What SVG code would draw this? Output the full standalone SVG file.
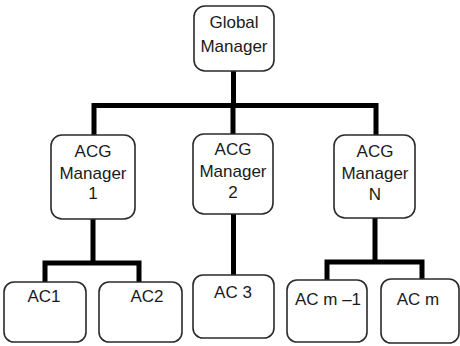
<svg xmlns="http://www.w3.org/2000/svg" width="460" height="346" viewBox="0 0 460 346">
  <style>
    .box { fill: #ffffff; stroke: #2a2a2a; stroke-width: 1.6; }
    .lbl { font-family: "Liberation Sans", Arial, sans-serif; font-size: 17px; fill: #1a1a1a; text-anchor: middle; }
    .wire { fill: none; stroke: #000000; stroke-width: 5; stroke-linejoin: miter; stroke-linecap: butt; }
  </style>
  <rect width="460" height="346" fill="#ffffff"/>

  <!-- connectors -->
  <g id="connectors">
    <path class="wire" d="M233.5 71 V105.5 M94 135 V105.5 H376 V135 M233 105.5 V134"/>
    <path class="wire" d="M93 219 V263 M45 282 V263 H139 V282"/>
    <path class="wire" d="M233.5 214 V275"/>
    <path class="wire" d="M375 218 V262 M327 280 V262 H422 V279"/>
  </g>

  <!-- top level -->
  <g id="global-manager">
    <rect class="box" x="194" y="6" width="80" height="65" rx="11"/>
    <text class="lbl" x="234" y="28">Global</text>
    <text class="lbl" x="234" y="52">Manager</text>
  </g>

  <!-- group managers -->
  <g id="acg-manager-1">
    <rect class="box" x="51" y="135" width="84" height="84" rx="11"/>
    <text class="lbl" x="93" y="157">ACG</text>
    <text class="lbl" x="93" y="179">Manager</text>
    <text class="lbl" x="93" y="199">1</text>
  </g>
  <g id="acg-manager-2">
    <rect class="box" x="193" y="134" width="80" height="80" rx="11"/>
    <text class="lbl" x="233" y="155">ACG</text>
    <text class="lbl" x="233" y="177">Manager</text>
    <text class="lbl" x="233" y="198">2</text>
  </g>
  <g id="acg-manager-n">
    <rect class="box" x="334" y="135" width="81" height="83" rx="11"/>
    <text class="lbl" x="375" y="157">ACG</text>
    <text class="lbl" x="375" y="179">Manager</text>
    <text class="lbl" x="375" y="200">N</text>
  </g>

  <!-- controllers -->
  <g id="ac-1">
    <rect class="box" x="4" y="282" width="82" height="60" rx="10"/>
    <text class="lbl" x="44" y="302">AC1</text>
  </g>
  <g id="ac-2">
    <rect class="box" x="99" y="282" width="83" height="60" rx="10"/>
    <text class="lbl" x="147" y="302">AC2</text>
  </g>
  <g id="ac-3">
    <rect class="box" x="193" y="275" width="81" height="63" rx="10"/>
    <text class="lbl" x="233" y="298">AC 3</text>
  </g>
  <g id="ac-m-minus-1">
    <rect class="box" x="287" y="280" width="80" height="62" rx="10"/>
    <text class="lbl" x="328" y="305">AC m –1</text>
  </g>
  <g id="ac-m">
    <rect class="box" x="381" y="279" width="78" height="64" rx="10"/>
    <text class="lbl" x="418" y="305">AC m</text>
  </g>
</svg>
